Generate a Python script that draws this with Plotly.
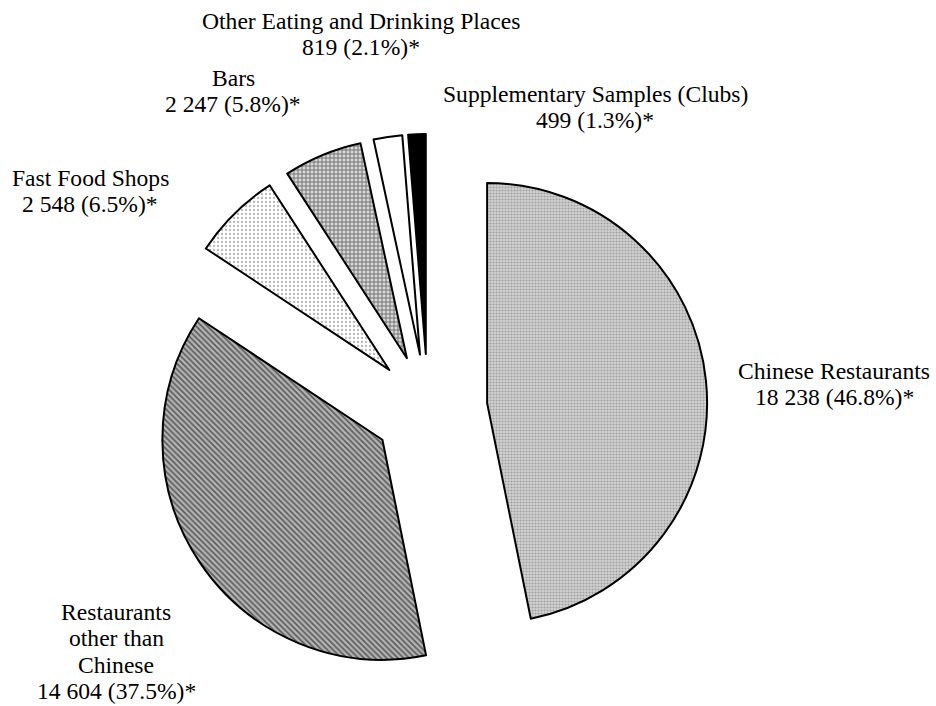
import plotly.graph_objects as go

categories = ["Chinese Restaurants", "Restaurants other than Chinese", "Fast Food Shops",
              "Bars", "Other Eating and Drinking Places", "Supplementary Samples (Clubs)"]
values = [18238, 14604, 2548, 2247, 819, 499]
label_lines = [
    ["Chinese Restaurants", "18 238 (46.8%)*"],
    ["Restaurants", "other than", "Chinese", "14 604 (37.5%)*"],
    ["Fast Food Shops", "2 548 (6.5%)*"],
    ["Bars", "2 247 (5.8%)*"],
    ["Other Eating and Drinking Places", "819 (2.1%)*"],
    ["Supplementary Samples (Clubs)", "499 (1.3%)*"],
]
# label centre x and first-line centre y (pixels)
label_pos = [(834, 371), (116, 612), (90, 178), (233, 78), (361, 21), (595, 94)]
LINE_STEP = 26.3

W, H = 936, 706
fig = go.Figure()
fig.add_trace(go.Pie(
    values=values,
    labels=categories,
    sort=False,
    direction="clockwise",
    rotation=0,
    pull=[0.27, 0.25, 0.25, 0.25, 0.25, 0.25],
    textinfo="none",
    hoverinfo="label+value+percent",
    showlegend=False,
    domain=dict(x=[148.6 / W, 707.4 / W], y=[17.6 / H, 576.4 / H]),
    marker=dict(
        colors=["#d2d2d2", "#b4b4b4", "#ffffff", "#d8d8d8", "#ffffff", "#000000"],
        line=dict(color="black", width=2),
        pattern=dict(
            shape=[".", "\\", ".", "+", "", ""],
            fgcolor=["#6e6e6e", "#000000", "#707070", "#000000", "#000000", "#000000"],
            size=[3, 4, 4, 4, 6, 6],
            solidity=[0.4, 0.4, 0.25, 0.4, 0.3, 0.3],
            fillmode="overlay",
        ),
    ),
))

for lines, (x, y) in zip(label_lines, label_pos):
    for i, txt in enumerate(lines):
        fig.add_annotation(x=x / W, y=1 - (y + i * LINE_STEP) / H, xref="paper", yref="paper",
                           text=txt, showarrow=False, xanchor="center", yanchor="middle",
                           align="center",
                           font=dict(family="Liberation Serif", size=23.6, color="black"))

fig.update_layout(width=W, height=H, margin=dict(l=0, r=0, t=0, b=0),
                  paper_bgcolor="white", plot_bgcolor="white")
fig.write_html("out.html")
